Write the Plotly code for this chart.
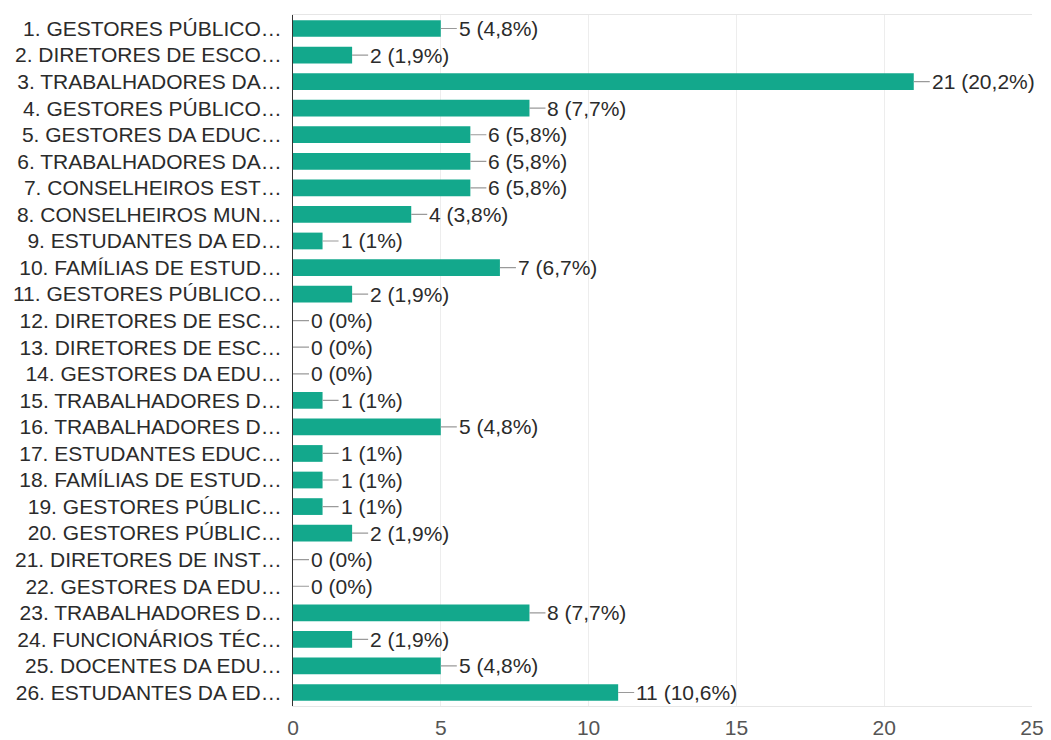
"""Horizontal response-count bars in the Google Forms style."""

import plotly.graph_objects as go

labels = [
    "1. GESTORES PÚBLICO…", "2. DIRETORES DE ESCO…", "3. TRABALHADORES DA…",
    "4. GESTORES PÚBLICO…", "5. GESTORES DA EDUC…", "6. TRABALHADORES DA…",
    "7. CONSELHEIROS EST…", "8. CONSELHEIROS MUN…", "9. ESTUDANTES DA ED…",
    "10. FAMÍLIAS DE ESTUD…", "11. GESTORES PÚBLICO…", "12. DIRETORES DE ESC…",
    "13. DIRETORES DE ESC…", "14. GESTORES DA EDU…", "15. TRABALHADORES D…",
    "16. TRABALHADORES D…", "17. ESTUDANTES EDUC…", "18. FAMÍLIAS DE ESTUD…",
    "19. GESTORES PÚBLIC…", "20. GESTORES PÚBLIC…", "21. DIRETORES DE INST…",
    "22. GESTORES DA EDU…", "23. TRABALHADORES D…", "24. FUNCIONÁRIOS TÉC…",
    "25. DOCENTES DA EDU…", "26. ESTUDANTES DA ED…",
]
counts = [5, 2, 21, 8, 6, 6, 6, 4, 1, 7, 2, 0, 0, 0, 1, 5, 1, 1, 1, 2, 0, 0, 8, 2, 5, 11]
percents = [
    "4,8%", "1,9%", "20,2%", "7,7%", "5,8%", "5,8%", "5,8%", "3,8%", "1%",
    "6,7%", "1,9%", "0%", "0%", "0%", "1%", "4,8%", "1%", "1%", "1%", "1,9%",
    "0%", "0%", "7,7%", "1,9%", "4,8%", "10,6%",
]
x_ticks = [0, 5, 10, 15, 20, 25]

BAR = "#13a88c"
TEXT = "#2b2b2b"
FONT = "Arial, 'Liberation Sans', sans-serif"
SIZE = 21

fig = go.Figure(
    go.Bar(
        x=counts,
        y=labels,
        orientation="h",
        marker_color=BAR,
        marker_line_width=0,
        hoverinfo="skip",
    )
)

# value labels joined to the bar ends by a short grey tick
for lab, c, p in zip(labels, counts, percents):
    fig.add_annotation(
        x=c, y=lab, text=f"{c} ({p})",
        showarrow=True, arrowhead=0, arrowwidth=1.2, arrowcolor="#9a9a9a",
        ax=16, ay=0, standoff=0, startstandoff=0,
        xanchor="left", yanchor="middle",
        font=dict(family=FONT, size=SIZE, color=TEXT),
    )

fig.update_layout(
    width=1051, height=740,
    margin=dict(l=293, r=19, t=15, b=34, autoexpand=False),
    paper_bgcolor="white", plot_bgcolor="white",
    bargap=0.37,
    showlegend=False,
    font=dict(family=FONT, size=SIZE, color=TEXT),
)
fig.update_xaxes(
    range=[0, 25], tickvals=x_ticks, automargin=False,
    showgrid=True, gridcolor="#ededed", gridwidth=1,
    zeroline=False, showline=True, linecolor="#e6e6e6", mirror=True,
    ticks="outside", ticklen=3, tickcolor="rgba(0,0,0,0)",
    tickfont=dict(family=FONT, size=SIZE, color="#555555"),
    fixedrange=True,
)
fig.update_yaxes(
    autorange="reversed", automargin=False,
    showline=True, linecolor="#333333", linewidth=1,
    ticks="", ticklabelstandoff=6,
    tickfont=dict(family=FONT, size=SIZE, color=TEXT),
    fixedrange=True,
)

# page body has a default 8px margin; drop it so the figure sits at 0,0
fig.write_html(
    "out.html",
    config={"displayModeBar": False},
    post_script="document.body.style.margin='0';",
)
